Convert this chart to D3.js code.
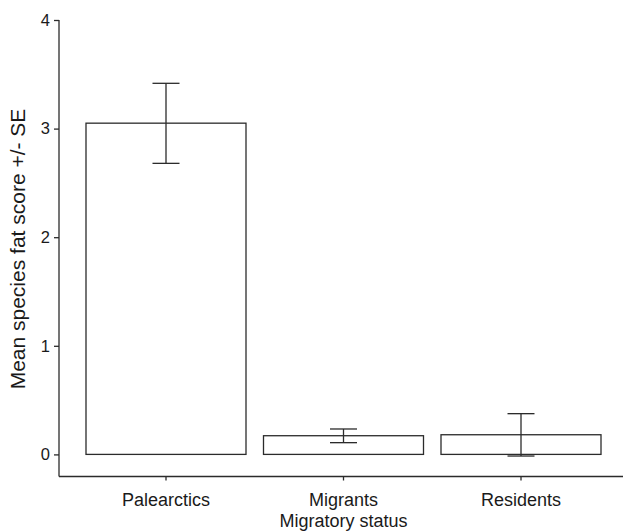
<!DOCTYPE html>
<html>
<head>
<meta charset="utf-8">
<script src="https://cdn.jsdelivr.net/npm/d3@7"></script>
<style>
  body { margin: 0; background: #fff; }
  svg { display: block; font-family: "Liberation Sans", Arial, sans-serif; }
</style>
</head>
<body>
<svg id="chart" width="623" height="532"></svg>
<script>
const categories = ["Palearctics", "Migrants", "Residents"];
const means = [3.05, 0.172, 0.181];
const seUpper = [3.417, 0.234, 0.375];
const seLower = [2.68, 0.108, -0.015];
const yTicks = [0, 1, 2, 3, 4];

const svg = d3.select("#chart");
const ink = "#2b2b2b";
const txt = "#1a1a1a";

const x = d3.scaleBand().domain(categories).range([86, 601]).paddingInner(0.0986).paddingOuter(0);
const y = d3.scaleLinear().domain([0, 4]).range([454.4, 20]);

// y axis
const yAxis = svg.append("g").attr("transform", "translate(59,0)")
  .call(d3.axisLeft(y).tickValues(yTicks).tickFormat(d3.format("d")).tickSize(5).tickSizeOuter(0));
yAxis.select(".domain").attr("d", `M0,${y(4)}V476.5`);
yAxis.selectAll("line").attr("stroke", ink).attr("stroke-width", 1.3);
yAxis.selectAll(".domain").attr("stroke", ink).attr("stroke-width", 1.3);
yAxis.selectAll("text").attr("font-size", 16.5).attr("fill", txt).attr("x", -9);

// x axis
const xAxis = svg.append("g").attr("transform", "translate(0,476.5)")
  .call(d3.axisBottom(x).tickSize(4).tickSizeOuter(0));
xAxis.select(".domain").attr("d", "M59,0H623");
xAxis.selectAll("line").attr("stroke", ink).attr("stroke-width", 1.3);
xAxis.selectAll(".domain").attr("stroke", ink).attr("stroke-width", 1.3);
xAxis.selectAll("text").attr("font-size", 18).attr("fill", txt).attr("y", 17).attr("dy", "0.71em");

// bars
svg.append("g").selectAll("rect").data(categories).join("rect")
  .attr("x", d => x(d))
  .attr("width", x.bandwidth())
  .attr("y", (d, i) => y(means[i]))
  .attr("height", (d, i) => y(0) - y(means[i]))
  .attr("fill", "#fff").attr("stroke", ink).attr("stroke-width", 1.3);

// error bars
const eb = svg.append("g").attr("stroke", ink).attr("stroke-width", 1.3);
categories.forEach((c, i) => {
  const cx = x(c) + x.bandwidth() / 2;
  eb.append("line").attr("x1", cx).attr("x2", cx).attr("y1", y(seUpper[i])).attr("y2", y(seLower[i]));
  eb.append("line").attr("x1", cx - 13.5).attr("x2", cx + 13.5).attr("y1", y(seUpper[i])).attr("y2", y(seUpper[i]));
  eb.append("line").attr("x1", cx - 13.5).attr("x2", cx + 13.5).attr("y1", y(seLower[i])).attr("y2", y(seLower[i]));
});

// titles
svg.append("text").attr("x", x("Migrants") + x.bandwidth() / 2).attr("y", 526.5)
  .attr("text-anchor", "middle").attr("font-size", 18).attr("fill", txt).text("Migratory status");
svg.append("text").attr("transform", "translate(25,249) rotate(-90)")
  .attr("text-anchor", "middle").attr("font-size", 21).attr("fill", txt).text("Mean species fat score +/- SE");
</script>
</body>
</html>
